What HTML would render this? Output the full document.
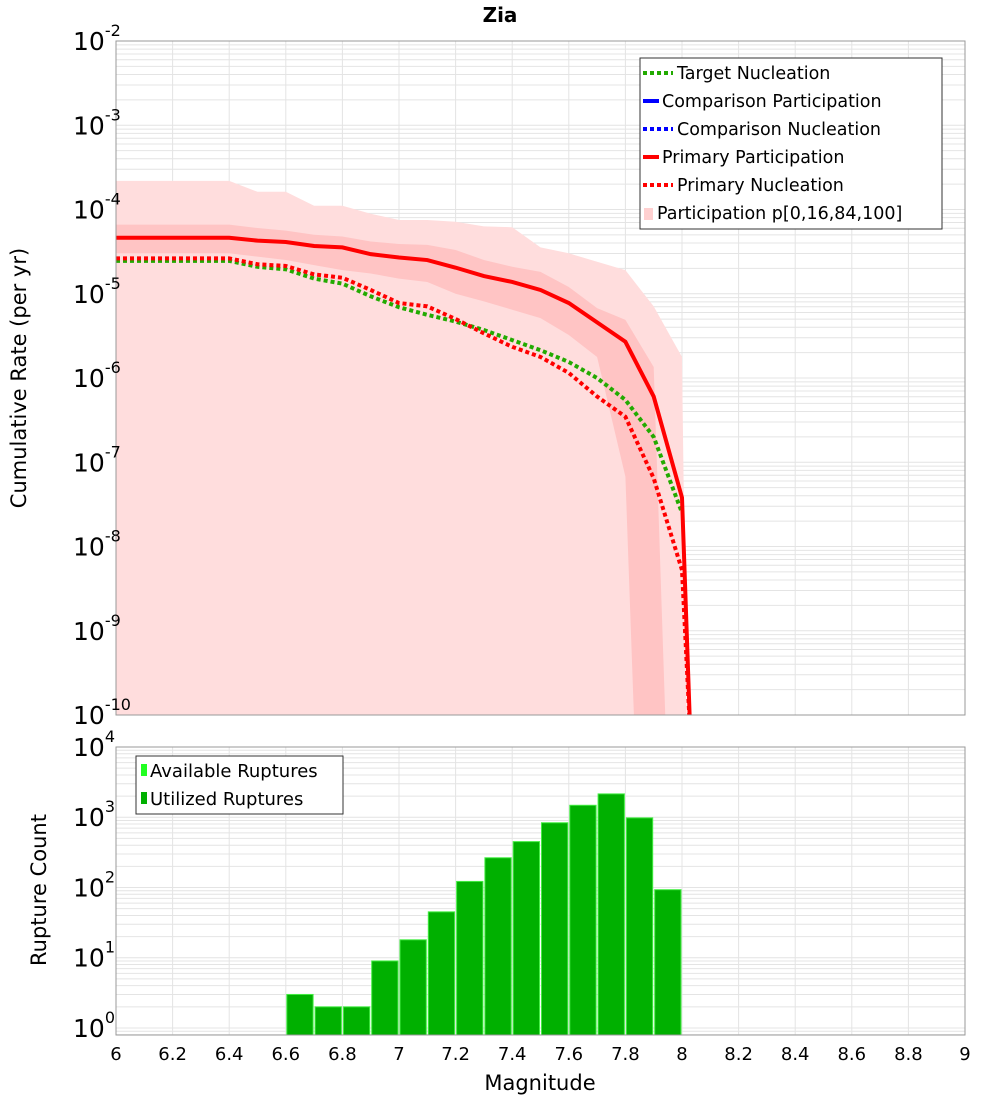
<!DOCTYPE html>
<html><head><meta charset="utf-8"><style>
html,body{margin:0;padding:0;background:#fff;overflow:hidden;width:1000px;height:1100px}
svg{display:block;font-family:"DejaVu Sans","Liberation Sans",sans-serif}
</style></head><body>
<svg id="c" width="1000" height="1100" xmlns="http://www.w3.org/2000/svg">
<text x="500" y="22" text-anchor="middle" font-weight="bold" font-size="20">Zia</text>
<text transform="translate(26,378) rotate(-90)" text-anchor="middle" font-size="21">Cumulative Rate (per yr)</text>
<text transform="translate(46,890) rotate(-90)" text-anchor="middle" font-size="21">Rupture Count</text>
<text x="540" y="1090" text-anchor="middle" font-size="21">Magnitude</text>
<g id="g"></g>
</svg>
<script>
const mags=[6.0,6.1,6.2,6.3,6.4,6.5,6.6,6.7,6.8,6.9,7.0,7.1,7.2,7.3,7.4,7.5,7.6,7.7,7.8,7.9,8.0];
const primaryPart=[-4.335,-4.335,-4.335,-4.335,-4.335,-4.37,-4.386,-4.433,-4.45,-4.53,-4.57,-4.6,-4.69,-4.79,-4.86,-4.955,-5.11,-5.34,-5.57,-6.22,-7.42];
const primaryNucl=[-4.58,-4.58,-4.58,-4.58,-4.58,-4.65,-4.67,-4.77,-4.81,-4.955,-5.11,-5.15,-5.30,-5.47,-5.63,-5.75,-5.94,-6.22,-6.46,-7.19,-8.28];
const targetNucl=[-4.61,-4.61,-4.61,-4.61,-4.61,-4.68,-4.71,-4.82,-4.88,-5.03,-5.16,-5.25,-5.33,-5.43,-5.55,-5.67,-5.81,-6.0,-6.26,-6.70,-7.6];
const outerUpper=[-3.66,-3.66,-3.66,-3.66,-3.66,-3.79,-3.79,-3.955,-3.955,-4.05,-4.125,-4.125,-4.145,-4.2,-4.21,-4.45,-4.52,-4.62,-4.72,-5.15,-5.75];
const innerUpper=[-4.18,-4.18,-4.18,-4.18,-4.18,-4.22,-4.25,-4.30,-4.32,-4.38,-4.41,-4.42,-4.48,-4.6,-4.68,-4.74,-4.92,-5.17,-5.31,-5.87,-16];
const innerLower=[-4.52,-4.52,-4.52,-4.52,-4.52,-4.56,-4.60,-4.66,-4.72,-4.76,-4.82,-4.86,-5.0,-5.09,-5.19,-5.29,-5.49,-5.75,-7.17,-16.6,-20];
const binStarts=[6.6,6.7,6.8,6.9,7.0,7.1,7.2,7.3,7.4,7.5,7.6,7.7,7.8,7.9];
const ruptureCounts=[3,2,2,9,18,45,122,265,450,835,1480,2150,980,93];
const xTicks=["6","6.2","6.4","6.6","6.8","7","7.2","7.4","7.6","7.8","8","8.2","8.4","8.6","8.8","9"];

const NS="http://www.w3.org/2000/svg";
const g=document.getElementById('g');
function el(t,a,p){const e=document.createElementNS(NS,t);for(const k in a)e.setAttribute(k,a[k]);(p||g).appendChild(e);return e;}
const L=116,R=965,T1=41,B1=715,T2=747,B2=1035;
const X=m=>L+(m-6)*(R-L)/3;
const Y1=l=>T1+(-2-l)*(B1-T1)/8;
const Y2=v=>T2+(4-Math.log10(v))*(B2-T2)/4.1;

const defs=el('defs',{});
const cp=el('clipPath',{id:'cp1'},defs);el('rect',{x:L,y:T1,width:R-L,height:B1-T1},cp);

const gr=el('g',{stroke:'#e4e4e4','stroke-width':1});

for(let i=0;i<=15;i++){const x=X(6+i*0.2);el('line',{x1:x,x2:x,y1:T1,y2:B1},gr);el('line',{x1:x,x2:x,y1:T2,y2:B2},gr);}
for(let d=-10;d<-2;d++)for(let k=1;k<10;k++){const y=Y1(d+Math.log10(k));el('line',{x1:L,x2:R,y1:y,y2:y},gr);}
for(let d=-1;d<4;d++)for(let k=1;k<10;k++){const v=Math.pow(10,d)*k;const y=Y2(v);if(y<=B2&&y>=T2)el('line',{x1:L,x2:R,y1:y,y2:y},gr);}

const pl=el('g',{'clip-path':'url(#cp1)'});

function bandPath(up,lo){let d='';mags.forEach((m,i)=>{d+=(i?'L':'M')+X(m)+','+Y1(up[i]);});
 if(lo){for(let i=mags.length-1;i>=0;i--)d+='L'+X(mags[i])+','+Y1(lo[i]);}
 else{d+='L'+X(8.02)+','+Y1(-11)+'L'+X(8.02)+','+(B1+5)+'L'+X(6)+','+(B1+5);}
 return d+'Z';}
const ob=el('path',{d:bandPath(outerUpper,null),fill:'#ffdddd'},pl);

const ib=el('path',{d:bandPath(innerUpper,innerLower),fill:'#ffc4c4'},pl);

function line(vals,color,dash,ext,name){let d='';mags.forEach((m,i)=>{d+=(i?'L':'M')+X(m)+','+Y1(vals[i]);});
 if(ext)d+='L'+X(8.03)+','+Y1(-10.3);
 const p=el('path',{d:d,fill:'none',stroke:color,'stroke-width':4,'stroke-dasharray':dash||'none'},pl);
 }
line(targetNucl,'#22aa00','4,3',false,'target-nucleation-line');
line(primaryNucl,'#ff0000','4,3',true,'primary-nucleation-line');
line(primaryPart,'#ff0000',null,true,'primary-participation-line');

const bg=el('g',{});

binStarts.forEach((m,i)=>{const x0=X(m)+1,x1=X(m+0.1)-1,y=Y2(ruptureCounts[i]);
 const r=el('rect',{x:x0,y:y,width:x1-x0,height:B2-y,fill:'#00b000',stroke:'#44ee44','stroke-width':1},bg);
 });

const f1=el('rect',{x:L,y:T1,width:R-L,height:B1-T1,fill:'none',stroke:'#999'});

const f2=el('rect',{x:L,y:T2,width:R-L,height:B2-T2,fill:'none',stroke:'#999'});


function ylab(y,exp,name){const t=el('text',{x:73,y:y+9,'font-size':25});
 
 t.textContent='10';const s=el('tspan',{dy:-14,'font-size':16},t);s.textContent=exp;}
for(let d=-10;d<=-2;d++)ylab(Y1(d),String(d),'top-y-tick-'+d);
for(let d=0;d<=4;d++)ylab(Y2(Math.pow(10,d)),String(d),'bottom-y-tick-'+d);
xTicks.forEach(s=>{const t=el('text',{x:X(parseFloat(s)),y:1060,'text-anchor':'middle','font-size':18});
 t.textContent=s;});

const lg=el('g',{});
el('rect',{x:640,y:58,width:302,height:171,fill:'#fff',stroke:'#333','stroke-width':1},lg);
const items=[['Target Nucleation','#22aa00','4,3',677],['Comparison Participation','#0000ff',null,662],['Comparison Nucleation','#0000ff','4,3',677],['Primary Participation','#ff0000',null,662],['Primary Nucleation','#ff0000','4,3',677],['Participation p[0,16,84,100]',null,null,657]];
items.forEach((it,i)=>{const y=73+i*28;const e=el('g',{},lg);
 
 if(it[1])el('line',{x1:643,x2:it[2]?673:659,y1:y,y2:y,stroke:it[1],'stroke-width':4,'stroke-dasharray':it[2]||'none'},e);
 else el('rect',{x:644,y:y-5,width:9,height:12,fill:'#ffd0d0'},e);
 const t=el('text',{x:it[3],y:y+6,'font-size':17.5},e);t.textContent=it[0];});

const lb=el('g',{});
el('rect',{x:136,y:756,width:207,height:58,fill:'#fff',stroke:'#333'},lb);
[['Available Ruptures','#22ff22'],['Utilized Ruptures','#00b000']].forEach((it,i)=>{const y=770+i*28;const e=el('g',{},lb);
 
 el('rect',{x:141,y:y-6,width:6,height:12,fill:it[1]},e);
 const t=el('text',{x:150,y:y+7,'font-size':18},e);t.textContent=it[0];});
</script>
</body></html>
